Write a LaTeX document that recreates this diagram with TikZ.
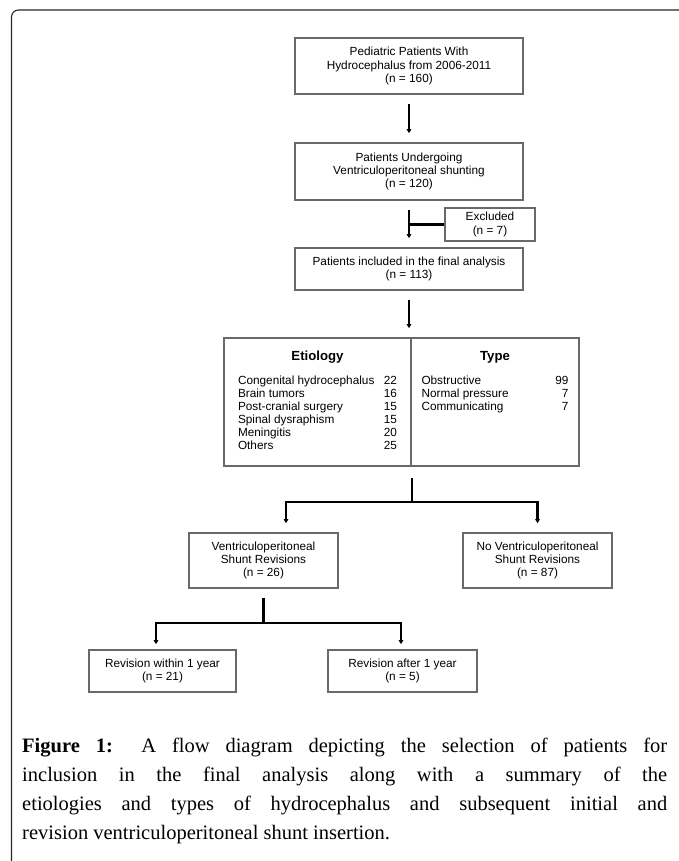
\documentclass[tikz,border=0pt]{standalone}
\usepackage{fontspec}
\setmainfont{Liberation Serif}
\setsansfont{Liberation Sans}
\usetikzlibrary{arrows.meta,calc}
\definecolor{boxline}{RGB}{105,105,105}
\definecolor{frameline}{RGB}{40,40,40}

\begin{document}
\begin{tikzpicture}[x=1pt,y=-1pt,>={Triangle[length=4pt,width=4.5pt]},
	box/.style={draw=boxline,line width=1.6pt,align=center,inner sep=0pt,
		font=\sffamily\fontsize{11.8}{13.4}\selectfont},
	head/.style={inner sep=0pt,font=\sffamily\bfseries\fontsize{13.2}{15}\selectfont},
	list/.style={inner sep=0pt,font=\sffamily\fontsize{11.8}{13}\selectfont},
	link/.style={line width=2.2pt},
	flow/.style={link,->,shorten <=9pt,shorten >=9pt},
	drop/.style={link,->,shorten >=9pt},
	dropshort/.style={link,->,shorten >=5pt}]
	\useasboundingbox (0,0) rectangle (679,861);
	% frame
	\draw[frameline,line width=1.1pt,rounded corners=7pt] (11.5,862) |- (680,10);
	% boxes
	\node[box,minimum width=228pt,minimum height=56pt] (ped) at (409,66) {Pediatric Patients With\\Hydrocephalus from 2006-2011\\(n = 160)};
	\node[box,minimum width=228pt,minimum height=57pt] (vps) at (409,171.5) {Patients Undergoing\\Ventriculoperitoneal shunting\\(n = 120)};
	\node[box,minimum width=90pt,minimum height=33pt] (excl) at (490,224.5) {Excluded\\(n = 7)};
	\node[box,minimum width=228pt,minimum height=42pt] (incl) at (409,269) {Patients included in the final analysis\\(n = 113)};
	\node[box,minimum width=187pt,minimum height=128pt] (etio) at (317.5,402) {};
	\node[box,minimum width=168pt,minimum height=128pt] (type) at (495,402) {};
	\node[box,minimum width=149pt,minimum height=55pt] (rev) at (263.5,560.5) {Ventriculoperitoneal\\Shunt Revisions\\(n = 26)};
	\node[box,minimum width=149pt,minimum height=55pt] (norev) at (537.5,560.5) {No Ventriculoperitoneal\\Shunt Revisions\\(n = 87)};
	\node[box,minimum width=147pt,minimum height=42pt] (early) at (162.5,671) {Revision within 1 year\\(n = 21)};
	\node[box,minimum width=149pt,minimum height=42pt] (late) at (402.5,671) {Revision after 1 year\\(n = 5)};
	% table
	\node[head] (etioh) at ($(etio.north)+(0,20)$) {Etiology};
	\node[head] (typeh) at ($(type.north)+(0,20)$) {Type};
	\node[list,anchor=north] (etiol) at ($(etio.north)+(0,38)$) {%
		\begin{tabular*}{159pt}{@{}l@{\extracolsep{\fill}}r@{}}
			Congenital hydrocephalus & 22\\
			Brain tumors & 16\\
			Post-cranial surgery & 15\\
			Spinal dysraphism & 15\\
			Meningitis & 20\\
			Others & 25
		\end{tabular*}};
	\node[list,anchor=north] (typel) at ($(type.north)+(0,38)$) {%
		\begin{tabular*}{147pt}{@{}l@{\extracolsep{\fill}}r@{}}
			Obstructive & 99\\
			Normal pressure & 7\\
			Communicating & 7
		\end{tabular*}};
	% connectors
	\coordinate (s1) at ($(etio.south east)+(0,35)$);
	\coordinate (s2) at ($(rev.south)+(0,34)$);
	\draw[flow] (ped) -- (vps);
	\draw[flow] (vps) -- (incl);
	\draw[link] (vps.south |- excl.west) -- (excl.west);
	\draw[flow] (incl.south) -- (incl.south |- etio.north);
	\draw[link] ($(etio.south east)+(0,11)$) -- (s1);
	\draw[drop] (s1) -| ($(rev.north)+(22.5,0)$);
	\draw[drop] (s1) -| (norev.north);
	\draw[link] ($(rev.south)+(0,9)$) -- (s2);
	\draw[dropshort] (s2) -| ($(early.north)+(-6.5,0)$);
	\draw[dropshort] (s2) -| ($(late.north)+(-1.5,0)$);
	% caption
	\node[anchor=north west,inner sep=0pt,text width=645pt,align=justify,
		font=\fontsize{20.5}{29}\selectfont] (cap) at (22,738)
		{\textbf{Figure 1:} A flow diagram depicting the selection of patients for\linebreak
		inclusion in the final analysis along with a summary of the\linebreak
		etiologies and types of hydrocephalus and subsequent initial and\linebreak
		revision ventriculoperitoneal shunt insertion.};
\end{tikzpicture}
\end{document}
